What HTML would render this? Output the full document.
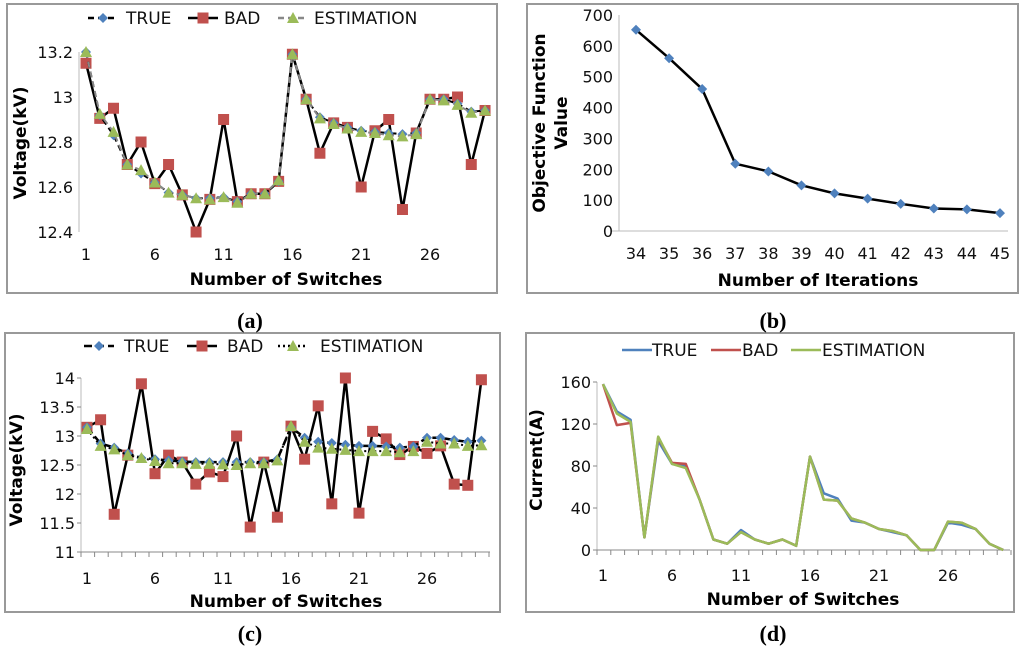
<!DOCTYPE html>
<html><head><meta charset="utf-8"><style>
html,body{margin:0;padding:0;background:#fff}
svg{display:block}
text{font-family:"DejaVu Sans","Liberation Sans",sans-serif}
.t{font-size:16px;fill:#111}
.ti{font-size:17px;font-weight:bold;fill:#000}
.lbl{font-family:"Liberation Serif",serif;font-size:22px;font-weight:bold}
</style></head><body>
<svg id="fig" width="1024" height="652" viewBox="0 0 1024 652" xmlns="http://www.w3.org/2000/svg">
<rect x="7" y="4" width="490" height="289" fill="none" stroke="#999" stroke-width="2"/>
<rect x="527" y="4" width="491" height="289" fill="none" stroke="#999" stroke-width="2"/>
<rect x="5" y="333" width="495" height="279" fill="none" stroke="#999" stroke-width="2"/>
<rect x="526" y="333" width="488" height="279" fill="none" stroke="#999" stroke-width="2"/>
<text class="lbl" x="250" y="328" text-anchor="middle">(a)</text>
<text class="lbl" x="773" y="328" text-anchor="middle">(b)</text>
<text class="lbl" x="250" y="641" text-anchor="middle">(c)</text>
<text class="lbl" x="773" y="641" text-anchor="middle">(d)</text>
<g id="g"></g>
</svg>
<script>
const switchTicks=[1,6,11,16,21,26];
const aTicks=[12.4,12.6,12.8,13,13.2];
const aTrue=[13.2,12.92,12.83,12.70,12.66,12.62,12.575,12.565,12.55,12.55,12.555,12.535,12.57,12.57,12.625,13.19,12.99,12.91,12.885,12.865,12.85,12.845,12.84,12.835,12.84,12.99,12.99,12.97,12.935,12.94];
const aBad=[13.15,12.905,12.95,12.70,12.80,12.615,12.70,12.565,12.40,12.545,12.90,12.535,12.57,12.57,12.625,13.19,12.99,12.75,12.885,12.865,12.60,12.85,12.90,12.50,12.84,12.99,12.99,13.0,12.70,12.94];
const aEst=[13.2,12.925,12.845,12.70,12.675,12.62,12.575,12.565,12.55,12.545,12.555,12.53,12.57,12.57,12.63,13.19,12.99,12.905,12.88,12.86,12.845,12.84,12.83,12.825,12.835,12.99,12.985,12.965,12.93,12.94];
const bIter=[34,35,36,37,38,39,40,41,42,43,44,45];
const bVal=[652,560,460,218,193,148,122,105,88,73,70,58];
const bTicks=[0,100,200,300,400,500,600,700];
const cTicks=[11,11.5,12,12.5,13,13.5,14];
const cTrue=[13.15,12.87,12.8,12.7,12.62,12.6,12.58,12.56,12.55,12.55,12.55,12.55,12.55,12.55,12.6,13.15,12.97,12.9,12.88,12.85,12.83,12.83,12.82,12.8,12.82,12.97,12.97,12.93,12.9,12.92];
const cBad=[13.15,13.28,11.65,12.67,13.9,12.35,12.67,12.55,12.17,12.38,12.3,13.0,11.43,12.55,11.6,13.17,12.6,13.52,11.83,14.0,11.67,13.08,12.95,12.68,12.82,12.7,12.83,12.17,12.15,13.97];
const cEst=[13.12,12.83,12.77,12.67,12.62,12.57,12.53,12.53,12.52,12.52,12.51,12.5,12.53,12.53,12.58,13.17,12.9,12.8,12.78,12.76,12.74,12.74,12.74,12.72,12.74,12.9,12.87,12.87,12.83,12.84];
const dTicks=[0,40,80,120,160];
const dTrue=[158,132,124,12,104,82,80,48,10,6,19,10,6,10,4,89,54,49,28,26,20,17,14,0,0,26,24,20,6,0];
const dBad=[158,119,121,12,107,83,82,48,10,6,17,10,6,10,4,89,48,47,30,26,20,18,14,0,0,27,26,20,6,0];
const dEst=[158,130,122,12,108,82,78,48,10,6,17,10,6,10,4,89,48,47,30,26,20,18,14,0,0,27,26,20,6,0];

const NS="http://www.w3.org/2000/svg";
const G=document.getElementById('g');
function mk(tag,attrs,parent,txt){const e=document.createElementNS(NS,tag);for(const k in attrs)e.setAttribute(k,attrs[k]);if(txt!==undefined)e.textContent=txt;(parent||G).appendChild(e);return e;}
function lin(d0,d1,r0,r1){return v=>r0+(v-d0)*(r1-r0)/(d1-d0);}
function path(vals,xf,yf){return vals.map((v,i)=>(i?'L':'M')+xf(i).toFixed(1)+' '+yf(v).toFixed(1)).join(' ');}
function marker(type,x,y,fill,p){
  let e;
  if(type==='sq')e=mk('rect',{x:x-5.5,y:y-5.5,width:11,height:11,fill:fill},p);
  else if(type==='di')e=mk('polygon',{points:`${x},${y-5} ${x+5},${y} ${x},${y+5} ${x-5},${y}`,fill:fill},p);
  else e=mk('polygon',{points:`${x},${y-6} ${x+6},${y+5} ${x-6},${y+5}`,fill:fill},p);
  return e;
}
function series(vals,xf,yf,opt,name){
  const g=mk('g',{});
  
  
  const l=mk('path',{d:path(vals,xf,yf),fill:'none',stroke:opt.color,'stroke-width':opt.w||2.5,'stroke-dasharray':opt.dash||'none','stroke-linejoin':'round'},g);
  
  
  if(opt.marker)vals.forEach((v,i)=>{const m=marker(opt.marker,xf(i),yf(v),opt.mfill,g);
    
    });
}
function yAxis(ticks,yf,ax,fmt,pre,tickmarks){
  const ln=mk('line',{x1:ax,x2:ax,y1:yf(ticks[ticks.length-1]),y2:yf(ticks[0]),stroke:'#bbb','stroke-width':1});
  
  
  ticks.forEach(t=>{const e=mk('text',{x:ax-6,y:yf(t)+6,'text-anchor':'end',class:'t'},G,fmt(t));
    
    
    if(tickmarks)mk('line',{x1:ax-4,x2:ax,y1:yf(t),y2:yf(t),stroke:'#888'});});
}
function xLabels(ticks,xfv,y,pre){ticks.forEach(t=>{const e=mk('text',{x:xfv(t),y:y,'text-anchor':'middle',class:'t'},G,String(t));
  
  });}
function title(txt,x,y,rot,pre){const e=mk('text',{x:x,y:y,'text-anchor':'middle',class:'ti',transform:rot?`rotate(-90 ${x} ${y})`:''},G,txt);
  
  }
function legend(items,y,pre){items.forEach(it=>{
  const g=mk('g',{});
  
  
  mk('line',{x1:it.x,x2:it.x+30,y1:y,y2:y,stroke:it.color,'stroke-width':it.w||2.5,'stroke-dasharray':it.dash||'none'},g);
  if(it.marker)marker(it.marker,it.x+15,y,it.mfill,g);
  mk('text',{x:it.x+(it.gap||36),y:y+6,class:'t',style:'font-size:17px'},g,it.t);});}

/* Panel a */
(function(){
 const xf=lin(0,25,86,430), yf=lin(12.4,13.2,232,52);
 yAxis(aTicks,yf,79,v=>v.toFixed(v%1===0?0:1).replace(/\.0$/,''),'a',false);
 xLabels(switchTicks,v=>xf(v-1),260,'a');
 title('Voltage(kV)',26,143,true,'a-y-axis-title');
 title('Number of Switches',286,285,false,'a-x-axis-title');
 series(aBad,xf,yf,{color:'#000',w:2.5,marker:'sq',mfill:'#c0504d'},'a-series-bad');
 series(aTrue,xf,yf,{color:'#000',w:2,dash:'6 4',marker:'di',mfill:'#4f81bd'},'a-series-true');
 series(aEst,xf,yf,{color:'#888',w:2,dash:'6 4',marker:'tr',mfill:'#9bbb59'},'a-series-estimation');
 legend([{x:88,t:'TRUE',color:'#000',dash:'6 4',marker:'di',mfill:'#4f81bd',gap:38},
  {x:188,t:'BAD',color:'#000',marker:'sq',mfill:'#c0504d',gap:36},
  {x:278,t:'ESTIMATION',color:'#888',dash:'6 4',marker:'tr',mfill:'#9bbb59',gap:36}],18,'a');
})();
/* Panel b */
(function(){
 const xf=lin(34,45,636,1000), yf=lin(0,700,231,15);
 yAxis(bTicks,yf,619,v=>String(v),'b',false);
 mk('line',{x1:612,x2:1008,y1:231,y2:231,stroke:'#bbb'});
 xLabels(bIter,xf,259,'b');
 title('Objective Function',545,123,true,'b-y-axis-title');
 title('Value',567,123,true,'b-y-axis-title-2');
 title('Number of Iterations',818,286,false,'b-x-axis-title');
 series(bVal,i=>xf(bIter[i]),yf,{color:'#000',w:2.5,marker:'di',mfill:'#4f81bd'},'b-series-objective');
})();
/* Panel c */
(function(){
 const xf=lin(0,25,87,427), yf=lin(11,14,552,378);
 yAxis(cTicks,yf,81,v=>String(v),'c',true);
 mk('line',{x1:81,x2:490,y1:552,y2:552,stroke:'#888'});
 for(let i=0;i<=30;i++)mk('line',{x1:81+i*13.6,x2:81+i*13.6,y1:552,y2:557,stroke:'#888'});
 xLabels(switchTicks,v=>xf(v-1),584,'c');
 title('Voltage(kV)',22,470,true,'c-y-axis-title');
 title('Number of Switches',286,607,false,'c-x-axis-title');
 series(cBad,xf,yf,{color:'#000',w:2.5,marker:'sq',mfill:'#c0504d'},'c-series-bad');
 series(cTrue,xf,yf,{color:'#000',w:2.5,dash:'8 4',marker:'di',mfill:'#4f81bd'},'c-series-true');
 series(cEst,xf,yf,{color:'#000',w:2,dash:'2 3',marker:'tr',mfill:'#9bbb59'},'c-series-estimation');
 legend([{x:84,t:'TRUE',color:'#000',dash:'8 4',marker:'di',mfill:'#4f81bd',gap:40},
  {x:187,t:'BAD',color:'#000',marker:'sq',mfill:'#c0504d',gap:40},
  {x:278,t:'ESTIMATION',color:'#000',dash:'2 3',marker:'tr',mfill:'#9bbb59',gap:42}],346,'c');
})();
/* Panel d */
(function(){
 const xf=lin(0,25,603,948), yf=lin(0,160,550,382);
 yAxis(dTicks,yf,597,v=>String(v),'d',true);
 mk('line',{x1:597,x2:1010,y1:550,y2:550,stroke:'#888'});
 for(let i=0;i<=30;i++)mk('line',{x1:597+i*13.8,x2:597+i*13.8,y1:550,y2:555,stroke:'#888'});
 xLabels(switchTicks,v=>xf(v-1),581,'d');
 title('Current(A)',542,460,true,'d-y-axis-title');
 title('Number of Switches',803,605,false,'d-x-axis-title');
 series(dTrue,xf,yf,{color:'#4f81bd',w:2.5},'d-series-true');
 series(dBad,xf,yf,{color:'#c0504d',w:2.5},'d-series-bad');
 series(dEst,xf,yf,{color:'#9bbb59',w:2.5},'d-series-estimation');
 legend([{x:622,t:'TRUE',color:'#4f81bd',gap:30},
  {x:711,t:'BAD',color:'#c0504d',gap:31},
  {x:791,t:'ESTIMATION',color:'#9bbb59',gap:31}],350,'d');
})();
</script>
</body></html>
